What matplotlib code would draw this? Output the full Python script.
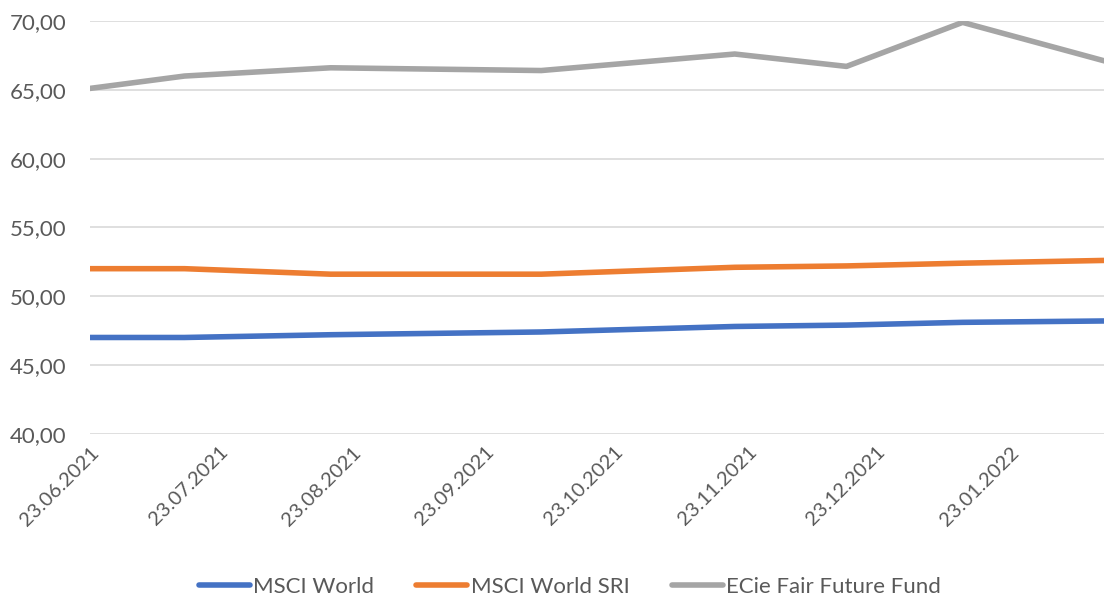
import matplotlib
matplotlib.use('Agg')
import matplotlib.pyplot as plt
import matplotlib.dates as mdates
from matplotlib.ticker import FuncFormatter, MultipleLocator
import datetime

dates = ['2021-06-23', '2021-07-15', '2021-08-18', '2021-10-06',
         '2021-11-20', '2021-12-16', '2022-01-12', '2022-02-14']
msci_world = [47.0, 47.0, 47.2, 47.4, 47.8, 47.9, 48.1, 48.2]
msci_world_sri = [52.0, 52.0, 51.6, 51.6, 52.1, 52.2, 52.4, 52.6]
ecie_fund = [65.1, 66.0, 66.6, 66.4, 67.6, 66.7, 69.9, 67.1]
tick_dates = ['2021-06-23', '2021-07-23', '2021-08-23', '2021-09-23',
              '2021-10-23', '2021-11-23', '2021-12-23', '2022-01-23']

plt.rcParams['font.family'] = ['Lato', 'DejaVu Sans']
text_col = '#595959'

x = [datetime.datetime.strptime(d, '%Y-%m-%d') for d in dates]
ticks = [datetime.datetime.strptime(d, '%Y-%m-%d') for d in tick_dates]

fig = plt.figure(figsize=(11.1, 6), dpi=100)
ax = fig.add_axes([0.081, 0.277, 0.914, 0.688])

ax.plot(x, msci_world, color='#4472C4', lw=4, solid_capstyle='round', label='MSCI World')
ax.plot(x, msci_world_sri, color='#ED7D31', lw=4, solid_capstyle='round', label='MSCI World SRI')
ax.plot(x, ecie_fund, color='#A5A5A5', lw=4, solid_capstyle='round', label='ECie Fair Future Fund')

ax.set_ylim(40, 70)
ax.set_xlim(x[0], x[-1])
ax.yaxis.set_major_locator(MultipleLocator(5))
ax.yaxis.set_major_formatter(FuncFormatter(lambda v, p: f'{v:.2f}'.replace('.', ',')))
ax.set_xticks(ticks)
ax.xaxis.set_major_formatter(mdates.DateFormatter('%d.%m.%Y'))
ax.grid(axis='y', color='#D9D9D9', lw=1.2)
ax.set_axisbelow(True)
for s in ax.spines.values():
    s.set_visible(False)
ax.tick_params(axis='both', length=0, colors=text_col, labelsize=14.5)
ax.tick_params(axis='y', labelsize=16, pad=17)
ax.tick_params(axis='x', pad=7)
for lbl in ax.get_xticklabels():
    lbl.set_rotation(45)
    lbl.set_ha('right')
    lbl.set_va('top')
    lbl.set_rotation_mode('anchor')

leg = ax.legend(loc='center', bbox_to_anchor=(0.473, -0.37), ncol=3, frameon=False,
                fontsize=16, handlelength=2.3, handletextpad=0.15, columnspacing=1.9,
                labelcolor=text_col)

fig.savefig('out.png', dpi=100)
